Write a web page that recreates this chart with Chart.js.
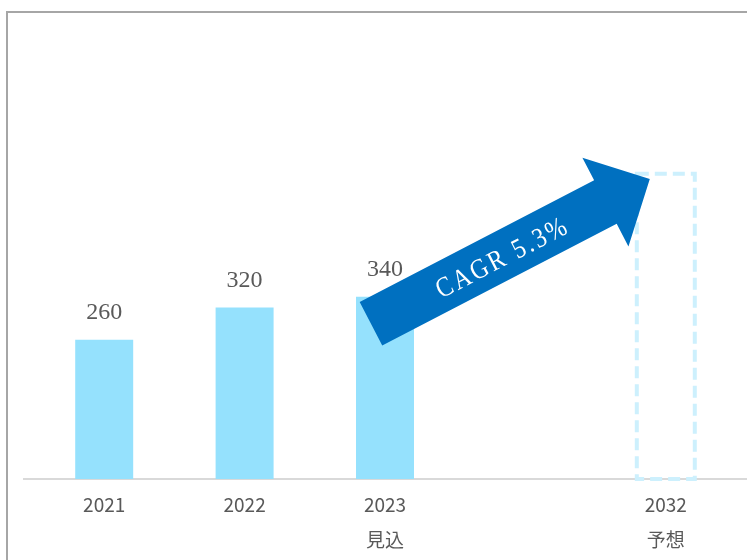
<!DOCTYPE html>
<html>
<head>
    <meta charset="utf-8">
    <title>市場規模推移</title>
    <script src="https://cdn.jsdelivr.net/npm/chart.js"></script>
    <style>
        html, body { margin: 0; padding: 0; background: #ffffff; overflow: hidden; }
        .frame {
            position: absolute;
            left: 6px;
            top: 11px;
            width: 800px;
            height: 600px;
            border: 2px solid #a6a6a6;
            box-sizing: border-box;
        }
        .chart-box { position: absolute; left: 0; top: 0; width: 747px; height: 560px; }
    </style>
</head>
<body>
    <div class="frame"></div>
    <div class="chart-box"><canvas id="myChart" width="747" height="560"></canvas></div>

    <script>
        // データ
        const categories = [['2021'], ['2022'], ['2023', '見込'], [''], ['2032', '予想']];
        const values = [260, 320, 340, null, 570];
        const forecastIndex = [4];          // 点線枠で描く予測値
        const labelIndex = [0, 1, 2];       // 数値ラベルを出す棒
        const cagrText = 'CAGR 5.3%';
        // 矢印の始点・終点（カテゴリ位置, 値）
        const arrowFrom = [1.9, 290];
        const arrowTo = [3.886, 560];

        const barColor = '#95e1fd';
        const dashColor = '#cdf0fd';

        // 基準線
        const baselinePlugin = {
            id: 'baseline',
            beforeDatasetsDraw(chart) {
                const ctx = chart.ctx;
                const y = chart.scales.y.getPixelForValue(0);
                ctx.save();
                ctx.strokeStyle = '#d9d9d9';
                ctx.lineWidth = 2;
                ctx.beginPath();
                ctx.moveTo(23, y);
                ctx.lineTo(chart.width, y);
                ctx.stroke();
                ctx.restore();
            }
        };

        // 予測の点線枠、数値ラベル、CAGR矢印
        const extrasPlugin = {
            id: 'extras',
            afterDatasetsDraw(chart) {
                const ctx = chart.ctx;
                const meta = chart.getDatasetMeta(0);
                const xs = chart.scales.x, ys = chart.scales.y;

                // 点線枠
                forecastIndex.forEach(i => {
                    const bar = meta.data[i];
                    const p = bar.getProps(['x', 'y', 'base', 'width'], true);
                    ctx.save();
                    ctx.strokeStyle = dashColor;
                    ctx.lineWidth = 4;
                    ctx.setLineDash([12, 6]);
                    ctx.strokeRect(p.x - p.width / 2, p.y, p.width, p.base - p.y);
                    ctx.restore();
                });

                // 数値ラベル
                ctx.save();
                ctx.fillStyle = '#595959';
                ctx.font = '24px "Liberation Serif", serif';
                ctx.textAlign = 'center';
                ctx.textBaseline = 'middle';
                labelIndex.forEach(i => {
                    const bar = meta.data[i];
                    ctx.fillText(String(values[i]), bar.x, bar.y - 27);
                });
                ctx.restore();

                // 矢印
                const x0 = xs.getPixelForValue(arrowFrom[0]), y0 = ys.getPixelForValue(arrowFrom[1]);
                const x1 = xs.getPixelForValue(arrowTo[0]), y1 = ys.getPixelForValue(arrowTo[1]);
                const len = Math.hypot(x1 - x0, y1 - y0);
                const ang = Math.atan2(y1 - y0, x1 - x0);
                const shaft = 49, head = 100, headLen = 50;
                ctx.save();
                ctx.translate(x0, y0);
                ctx.rotate(ang);
                ctx.fillStyle = '#0070c0';
                ctx.beginPath();
                ctx.moveTo(0, -shaft / 2);
                ctx.lineTo(len - headLen, -shaft / 2);
                ctx.lineTo(len - headLen, -head / 2);
                ctx.lineTo(len, 0);
                ctx.lineTo(len - headLen, head / 2);
                ctx.lineTo(len - headLen, shaft / 2);
                ctx.lineTo(0, shaft / 2);
                ctx.closePath();
                ctx.fill();
                // 縦長の明朝風に見せるため横方向を少し詰める
                ctx.translate((len - headLen) / 2 + 15, 3);
                ctx.scale(0.86, 1);
                ctx.fillStyle = '#ffffff';
                ctx.font = '28px "Liberation Serif", serif';
                ctx.letterSpacing = '3px';
                ctx.textAlign = 'center';
                ctx.textBaseline = 'middle';
                ctx.fillText(cagrText, 0, 0);
                ctx.restore();
            }
        };

        const ctx = document.getElementById('myChart').getContext('2d');
        const myChart = new Chart(ctx, {
            type: 'bar',
            data: {
                labels: categories,
                datasets: [{
                    data: values,
                    backgroundColor: values.map((v, i) => forecastIndex.includes(i) ? 'rgba(0,0,0,0)' : barColor),
                    borderWidth: 0,
                    categoryPercentage: 1,
                    barPercentage: 0.413
                }]
            },
            options: {
                responsive: false,
                animation: false,
                layout: { padding: { left: 34, right: 11, top: 104, bottom: 0 } },
                plugins: {
                    legend: { display: false },
                    tooltip: { enabled: false }
                },
                scales: {
                    x: {
                        grid: { display: false, drawTicks: false },
                        border: { display: false },
                        afterFit(scale) { scale.height = 81; },
                        ticks: {
                            color: '#595959',
                            padding: 8,
                            maxRotation: 0,
                            autoSkip: false,
                            font: { family: '"Noto Sans CJK JP", sans-serif', size: 19, lineHeight: 1.85 }
                        }
                    },
                    y: {
                        display: false,
                        min: 0,
                        max: 700
                    }
                }
            },
            plugins: [baselinePlugin, extrasPlugin]
        });
    </script>
</body>
</html>
